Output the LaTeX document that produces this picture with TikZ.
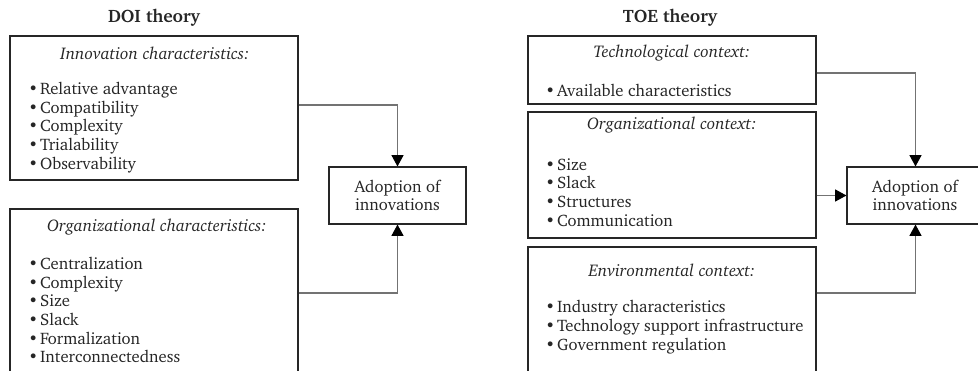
\documentclass[tikz,border=0pt]{standalone}
\usepackage[T1]{fontenc}
\usepackage{charter}
\usetikzlibrary{arrows.meta,fit}
\newcommand{\bul}{\textbullet\hspace{0.12em}}
\begin{document}
\begin{tikzpicture}[x=0.75pt,y=-0.75pt,
  box/.style={draw=black!85,line width=0.8pt,inner sep=0pt},
  conn/.style={draw=black!55,line width=0.9pt,-{Triangle[width=9pt,length=8.5pt,color=black,fill=black]}},
  txt/.style={inner sep=0pt,text=black!85,font=\fontsize{12.5}{14}\selectfont},
  head/.style={txt,font=\fontsize{12.7}{14}\selectfont\itshape},
  lst/.style={txt,align=left,anchor=west},
  ttl/.style={txt,font=\fontsize{13.5}{15}\selectfont\bfseries}]
\useasboundingbox (0,0) rectangle (978,371);
\clip (0,0) rectangle (978,371);
% titles
\node[ttl] (doi) at (154,18) {DOI theory};
\node[ttl] (toe) at (670,18) {TOE theory};
% DOI boxes
\node[box,fit={(10,36) (298,180)}] (inno) {};
\node[head] (innoh) at (155,53) {Innovation characteristics:};
\node[lst] (innol) at (28,127.5) {\bul Relative advantage\\ \bul Compatibility\\ \bul Complexity\\ \bul Trialability\\ \bul Observability};
\node[box,fit={(10,209) (298,420)}] (orgc) {};
\node[head] (orgch) at (157,227) {Organizational characteristics:};
\node[lst] (orgcl) at (28,310) {\bul Centralization\\ \bul Complexity\\ \bul Size\\ \bul Slack\\ \bul Formalization\\ \bul Interconnectedness};
\node[box,fit={(329,167) (466,224)}] (adoptL) {};
\node[txt,align=center] (adoptLt) at (397.5,195.5) {Adoption of\\innovations};
% TOE boxes
\node[box,fit={(528,36) (816,104)}] (tech) {};
\node[head] (techh) at (672,53) {Technological context:};
\node[lst] (techl) at (545,90) {\bul Available characteristics};
\node[box,fit={(528,112) (816,238)}] (orgx) {};
\node[head] (orgxh) at (672,125) {Organizational context:};
\node[lst] (orgxl) at (545,192.5) {\bul Size\\ \bul Slack\\ \bul Structures\\ \bul Communication};
\node[box,fit={(528,247) (816,420)}] (env) {};
\node[head] (envh) at (672,270) {Environmental context:};
\node[lst] (envl) at (545,327) {\bul Industry characteristics\\ \bul Technology support infrastructure\\ \bul Government regulation};
\node[box,fit={(847,167) (984,224)}] (adoptR) {};
\node[txt,align=center] (adoptRt) at (915,195.5) {Adoption of\\innovations};
% helper coordinates
\coordinate (yA) at (0,105);
\coordinate (yB) at (0,293);
\coordinate (yC) at (0,73);
% connectors
\draw[conn] (inno.east |- yA) -| (adoptL.north);
\draw[conn] (orgc.east |- yB) -| (adoptL.south);
\draw[conn] (tech.east |- yC) -| (adoptR.north);
\draw[conn] (orgx.east |- adoptR.west) -- (adoptR.west);
\draw[conn] (env.east |- yB) -| (adoptR.south);
\end{tikzpicture}
\end{document}
